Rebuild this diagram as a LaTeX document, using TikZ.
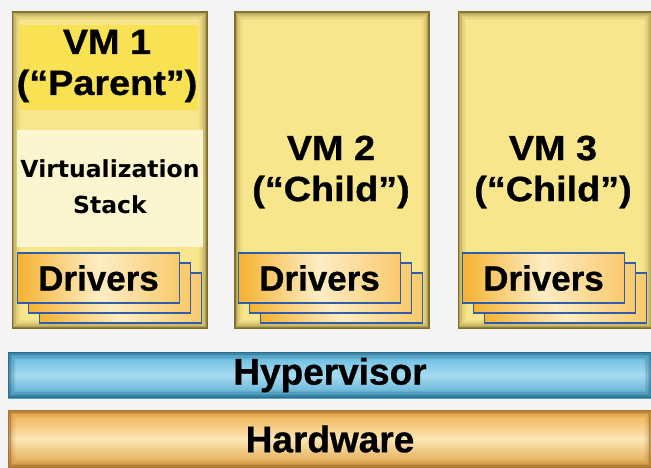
\documentclass[tikz,border=0pt]{standalone}
\usepackage{fontspec}
\setmainfont{Liberation Sans}[BoldFeatures={FakeBold=0.8}]
\newfontfamily\vmfont{Liberation Sans}[BoldFeatures={FakeBold=0.8, FakeStretch=1.08}]
\newfontfamily\stackfont{DejaVu Sans}
\usetikzlibrary{positioning}

\definecolor{bgpaper}{HTML}{F4F4F4}
\definecolor{vmfill}{HTML}{F8E68C}
\definecolor{vmedge}{HTML}{7C6C2C}
\definecolor{vmhead}{HTML}{F8E254}
\definecolor{stackfill}{HTML}{FBF5D0}
\definecolor{drvdark}{HTML}{F6B233}
\definecolor{drvlight}{HTML}{FDEDC4}
\definecolor{drvedge}{HTML}{2F5DAA}
\definecolor{hvlight}{HTML}{A6DAF0}
\definecolor{hvmid}{HTML}{5DB8DE}
\definecolor{hvdark}{HTML}{1F5F7C}
\definecolor{hwlight}{HTML}{FBE6B4}
\definecolor{hwmid}{HTML}{F0AE48}
\definecolor{hwdark}{HTML}{9A6A2A}

\tikzset{
  vmbox/.style={draw=vmedge, line width=1pt, fill=vmfill, minimum width=195pt, minimum height=316pt, inner sep=0pt},
  vmtext/.style={font=\vmfont\fontsize{35}{41}\selectfont\bfseries, align=center, inner sep=0pt},
  drvbox/.style={draw=drvedge, line width=1.4pt, left color=drvdark, right color=drvdark!60!drvlight,
    middle color=drvlight, minimum width=162pt, minimum height=50pt, inner sep=0pt,
    font=\fontsize{35}{40}\selectfont\bfseries},
  layerbar/.style={minimum width=644pt, inner sep=0pt},
  layertext/.style={font=\fontsize{37}{40}\selectfont\bfseries, inner sep=0pt}
}

\begin{document}
\begin{tikzpicture}[x=1pt, y=-1pt]
    \useasboundingbox[fill=bgpaper] (0,0) rectangle (651,468);

    \node[vmbox] (vm_one) at (109.5,170) {};
    \node[vmbox] (vm_two) at (332,170) {};
    \node[vmbox, minimum width=194pt] (vm_three) at (555,170) {};
    \node[layerbar, top color=hvmid, bottom color=hvmid!85!hvdark, middle color=hvlight,
        minimum height=46pt] (hypervisor) at (330,375) {};
    \node[layerbar, top color=hwmid, bottom color=hwmid!80!hwdark, middle color=hwlight,
        draw=black!35, densely dotted, line width=0.8pt, minimum height=58pt] (hardware) at (330,439) {};

    \foreach \boxname/\edge in {vm_one/vmedge, vm_two/vmedge, vm_three/vmedge, hypervisor/hvdark, hardware/hwdark}
      \foreach \dd/\op in {0.8/0.85, 2.2/0.55, 3.6/0.35, 5/0.22, 6.4/0.12, 7.8/0.06}
        \draw[\edge, line width=1.5pt, opacity=\op] ([shift={(\dd pt,-\dd pt)}]\boxname.north west)
            rectangle ([shift={(-\dd pt,\dd pt)}]\boxname.south east);

    \node[fill=vmhead, minimum width=178pt, minimum height=85pt, inner sep=0pt] (vm_one_head) at (109,67.5) {};
    \node[vmtext] (vm_one_name) at (107,66) {VM 1\\(“Parent”)};
    \node[fill=stackfill, minimum width=186pt, minimum height=117pt, inner sep=0pt] (virt_stack) at (110,188.5)
        {\stackfont\bfseries\fontsize{23.5}{36}\selectfont\begin{tabular}{@{}c@{}}Virtualization\\Stack\end{tabular}};

    \node[vmtext] (vm_two_name) at (331,172) {VM 2\\(“Child”)};
    \node[vmtext] (vm_three_name) at (553,172) {VM 3\\(“Child”)};

    \coordinate (drv_one) at (98.5,278);
    \node[drvbox] (drv_one_c) at ([shift={(22pt,-20pt)}]drv_one) {};
    \node[drvbox] (drv_one_b) at ([shift={(11pt,-10pt)}]drv_one) {};
    \node[drvbox] (drv_one_a) at (drv_one) {Drivers};

    \coordinate (drv_two) at (319.5,278);
    \node[drvbox] (drv_two_c) at ([shift={(22pt,-20pt)}]drv_two) {};
    \node[drvbox] (drv_two_b) at ([shift={(11pt,-10pt)}]drv_two) {};
    \node[drvbox] (drv_two_a) at (drv_two) {Drivers};

    \coordinate (drv_three) at (543.5,278);
    \node[drvbox] (drv_three_c) at ([shift={(22pt,-20pt)}]drv_three) {};
    \node[drvbox] (drv_three_b) at ([shift={(11pt,-10pt)}]drv_three) {};
    \node[drvbox] (drv_three_a) at (drv_three) {Drivers};

    \node[layertext] (hypervisor_label) at (hypervisor) {Hypervisor};
    \node[layertext] (hardware_label) at (hardware) {Hardware};
\end{tikzpicture}
\end{document}
